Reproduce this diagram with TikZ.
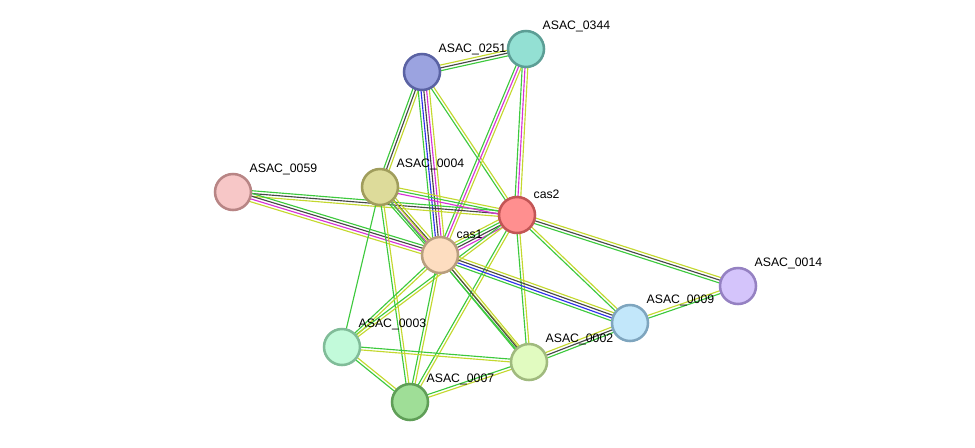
\documentclass[tikz,border=0pt]{standalone}
\usepackage{fontspec}
\setmainfont{Liberation Sans}
\usetikzlibrary{calc,backgrounds}

% evidence colours
\definecolor{nbr}{HTML}{3DC93D}
\definecolor{tmine}{HTML}{C4D82E}
\definecolor{coexp}{HTML}{474747}
\definecolor{expt}{HTML}{D632D6}
\definecolor{cooc}{HTML}{2E2EEA}
% protein colours (fill / rim)
\definecolor{f0251}{HTML}{9BA3E0}\definecolor{d0251}{HTML}{5A62A3}
\definecolor{f0344}{HTML}{93E0D3}\definecolor{d0344}{HTML}{5C9E95}
\definecolor{f0059}{HTML}{F7C7C7}\definecolor{d0059}{HTML}{B88585}
\definecolor{f0004}{HTML}{DDDB9A}\definecolor{d0004}{HTML}{A09D5C}
\definecolor{fcas2}{HTML}{FF8F8F}\definecolor{dcas2}{HTML}{C25555}
\definecolor{fcas1}{HTML}{FDDDC0}\definecolor{dcas1}{HTML}{B89E7E}
\definecolor{f0014}{HTML}{D4C4FB}\definecolor{d0014}{HTML}{9581C2}
\definecolor{f0009}{HTML}{C2E7FA}\definecolor{d0009}{HTML}{7EA5BE}
\definecolor{f0003}{HTML}{C2FADA}\definecolor{d0003}{HTML}{80BC98}
\definecolor{f0002}{HTML}{E1FBC0}\definecolor{d0002}{HTML}{A0BA7E}
\definecolor{f0007}{HTML}{9FDE97}\definecolor{d0007}{HTML}{5F9E57}

\tikzset{
  prot/.style={circle, minimum size=27pt, inner sep=0pt, line width=1.9pt, fill=f#1, draw=d#1},
  lbl/.style={font=\fontsize{9.2}{11}\selectfont, inner sep=1pt, label distance=1.5pt},
  ln/.style={line width=0.85pt},
}

% parallel lines between two proteins, one per evidence colour
\newcommand\lnk[3]{%
  \foreach \c [count=\i] in {#3}{\xdef\lnkn{\i}}%
  \foreach \c [count=\i] in {#3}{%
    \pgfmathsetmacro\off{(\i-(\lnkn+1)/2)*2.1}%
    \draw[ln,\c] ($(#1.center)!\off pt!90:(#2.center)$) -- ($(#2.center)!\off pt!-90:(#1.center)$);
  }}

\begin{document}
\begin{tikzpicture}[x=0.75pt,y=-0.75pt]
  \useasboundingbox (0,0) rectangle (975,447);
  % proteins
  \node[prot=0251, label={[lbl]45:ASAC\_0251}] (a0251) at (422,72) {};
  \node[prot=0344, label={[lbl]45:ASAC\_0344}] (a0344) at (526,49) {};
  \node[prot=0059, label={[lbl]45:ASAC\_0059}] (a0059) at (233,192) {};
  \node[prot=0004, label={[lbl]45:ASAC\_0004}] (a0004) at (380,187) {};
  \node[prot=cas2, label={[lbl]45:cas2}] (cas2) at (517,215) {};
  \node[prot=cas1, label={[lbl]45:cas1}] (cas1) at (440,255) {};
  \node[prot=0014, label={[lbl]45:ASAC\_0014}] (a0014) at (738,286) {};
  \node[prot=0009, label={[lbl]45:ASAC\_0009}] (a0009) at (630,323) {};
  \node[prot=0003, label={[lbl]45:ASAC\_0003}] (a0003) at (342,347) {};
  \node[prot=0002, label={[lbl]45:ASAC\_0002}] (a0002) at (529,362) {};
  \node[prot=0007, label={[lbl]45:ASAC\_0007}] (a0007) at (410,402) {};

  % links
  \begin{pgfonlayer}{background}
    \lnk{a0251}{a0344}{nbr,coexp,tmine}
    \lnk{a0251}{a0004}{nbr,coexp,tmine}
    \lnk{a0251}{cas1}{nbr,cooc,coexp,expt,tmine}
    \lnk{a0251}{cas2}{nbr,tmine}
    \lnk{a0344}{cas1}{nbr,expt,tmine}
    \lnk{a0344}{cas2}{nbr,expt,tmine}
    \lnk{a0059}{cas2}{tmine,coexp,nbr}
    \lnk{a0059}{cas1}{tmine,expt,coexp,nbr}
    \lnk{a0004}{cas2}{expt,nbr,tmine}
    \lnk{a0004}{cas1}{nbr,expt,coexp,tmine}
    \lnk{a0004}{a0003}{nbr}
    \lnk{a0004}{a0007}{nbr,tmine}
    \lnk{a0004}{a0002}{nbr,tmine}
    \lnk{cas1}{cas2}{expt,coexp,nbr,tmine}
    \lnk{cas2}{a0014}{nbr,coexp,tmine}
    \lnk{cas2}{a0009}{nbr,tmine}
    \lnk{cas2}{a0002}{nbr,tmine}
    \lnk{cas2}{a0007}{nbr,tmine}
    \lnk{cas2}{a0003}{nbr,tmine}
    \lnk{cas1}{a0009}{nbr,cooc,coexp,tmine}
    \lnk{cas1}{a0002}{nbr,coexp,tmine}
    \lnk{cas1}{a0003}{nbr,tmine}
    \lnk{cas1}{a0007}{nbr,tmine}
    \lnk{a0003}{a0002}{tmine,nbr}
    \lnk{a0003}{a0007}{nbr,tmine}
    \lnk{a0007}{a0002}{tmine,nbr}
    \lnk{a0002}{a0009}{nbr,coexp,tmine}
    \lnk{a0009}{a0014}{nbr,tmine}
  \end{pgfonlayer}
\end{tikzpicture}
\end{document}
